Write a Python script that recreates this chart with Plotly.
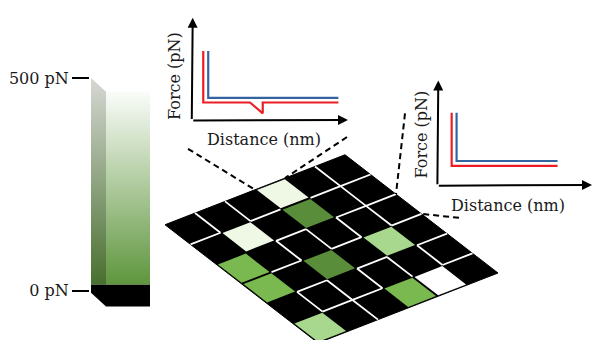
import plotly.graph_objects as go
from plotly.colors import sample_colorscale

W, H = 595, 340
FONT = "DejaVu Serif"
INK = "#1a1a1a"

# ---------------- data ----------------
# colour bar scale
BAR_TICKS = [0, 500]
BAR_TICK_TEXT = ["0 pN", "500 pN"]
BAR_MAX = 500

# rupture force per grid cell (pN); None = no event (black cell)
TILE_FORCE = [
    [None, None, None, 450, None, None],
    [None, 450, None, 20, None, None],
    [200, None, None, None, None, None],
    [200, None, 20, None, 325, None],
    [None, None, None, None, None, None],
    [325, None, None, 200, 500, None],
]

# visible white separators between cells: (i, j) grid nodes
U_EDGES = [(0, 1), (2, 1), (4, 1), (5, 1), (2, 2), (4, 2), (5, 2), (1, 3), (3, 3),
           (5, 3), (1, 4), (3, 4), (5, 4), (1, 5), (2, 5), (5, 5)]
V_EDGES = [(1, 0), (2, 0), (5, 0), (5, 1), (2, 2), (3, 2), (4, 2), (5, 2), (1, 4),
           (2, 4), (3, 4), (4, 4), (5, 4), (2, 5)]

# force-distance curves (arbitrary units): approach (blue) and retract (red)
D1_APPROACH = [10.0, 10.0, 93.8]
F1_APPROACH = [67.5, 21.6, 21.6]
D1_RETRACT = [6.8, 6.8, 36.9, 45.1, 45.1, 93.8]
F1_RETRACT = [67.5, 17.1, 17.1, 6.5, 17.1, 17.1]

D2_APPROACH = [11.9, 11.9, 77.6]
F2_APPROACH = [69.2, 23.0, 23.0]
D2_RETRACT = [8.7, 8.7, 77.6]
F2_RETRACT = [69.2, 18.3, 18.3]

# ---------------- styling ----------------
TILE_SCALE = [[0.0, "rgb(86,136,56)"], [0.4, "rgb(122,184,80)"],
              [0.65, "rgb(168,216,142)"], [0.9, "rgb(238,248,228)"],
              [1.0, "rgb(255,255,255)"]]
FRONT_SCALE = [[0.0, "rgb(92,148,58)"], [1.0, "rgb(250,252,249)"]]
SIDE_SCALE = [[0.0, "rgb(70,110,44)"], [1.0, "rgb(214,216,212)"]]
RED = "rgb(236,30,36)"
BLUE = "rgb(52,100,160)"

# oblique projection of the 6x6 board (page pixels)
ORIGIN = (165.0, 223.0)
U = (30.0, -11.83)
V = (25.5, 20.0)
N = 6


def gp(i, j):
    return (ORIGIN[0] + i * U[0] + j * V[0], ORIGIN[1] + i * U[1] + j * V[1])


def px(x):
    return x / W


def py(y):
    return 1 - y / H


fig = go.Figure()

# ---- board ----
corners = [gp(0, 0), gp(N, 0), gp(N, N), gp(0, N), gp(0, 0)]
fig.add_trace(go.Scatter(x=[c[0] for c in corners], y=[c[1] for c in corners],
                         fill="toself", fillcolor="black", mode="lines",
                         line=dict(color="black", width=1), hoverinfo="skip"))

INSET = 0.07
for j, row in enumerate(TILE_FORCE):
    for i, f in enumerate(row):
        if f is None:
            continue
        color = sample_colorscale(TILE_SCALE, [f / BAR_MAX])[0]
        pts = [gp(i, j), gp(i + 1, j), gp(i + 1, j + 1), gp(i, j + 1)]
        cx = sum(p[0] for p in pts) / 4
        cy = sum(p[1] for p in pts) / 4
        pts = [(p[0] + (cx - p[0]) * INSET, p[1] + (cy - p[1]) * INSET) for p in pts]
        pts.append(pts[0])
        fig.add_trace(go.Scatter(x=[p[0] for p in pts], y=[p[1] for p in pts],
                                 fill="toself", fillcolor=color, mode="lines",
                                 line=dict(width=0), hoverinfo="skip"))

ex, ey = [], []
for i, j in U_EDGES:
    a, b = gp(i, j), gp(i + 1, j)
    ex += [a[0], b[0], None]
    ey += [a[1], b[1], None]
for i, j in V_EDGES:
    a, b = gp(i, j), gp(i, j + 1)
    ex += [a[0], b[0], None]
    ey += [a[1], b[1], None]
fig.add_trace(go.Scatter(x=ex, y=ey, mode="lines", line=dict(color="white", width=1.8),
                         hoverinfo="skip"))

# ---- dashed zoom guides ----
guides = [((188, 146), gp(3, 0)), ((347, 134), gp(4, 0)),
          ((405, 110), gp(N, 2)), ((459, 216), gp(N, 3))]
gx, gy = [], []
for a, b in guides:
    gx += [a[0], b[0], None]
    gy += [a[1], b[1], None]
fig.add_trace(go.Scatter(x=gx, y=gy, mode="lines",
                         line=dict(color="black", width=2, dash="6px,4px"),
                         hoverinfo="skip"))

# ---- force curves ----
for D, F, col, xa, ya in [
    (D1_APPROACH, F1_APPROACH, BLUE, "x2", "y2"),
    (D1_RETRACT, F1_RETRACT, RED, "x2", "y2"),
    (D2_APPROACH, F2_APPROACH, BLUE, "x4", "y4"),
    (D2_RETRACT, F2_RETRACT, RED, "x4", "y4"),
]:
    fig.add_trace(go.Scatter(x=D, y=F, mode="lines", xaxis=xa, yaxis=ya,
                             line=dict(color=col, width=2.2), hoverinfo="skip"))

# ---- colour bar (3D column) ----
PN_PER_PX = BAR_MAX / 216.0
DEPTH = 14 * PN_PER_PX
BASE = -2 * PN_PER_PX
BLACK_TOP = 6 * PN_PER_PX
X_BACK, X_FRONT, X_RIGHT = 91, 106, 150

fig.add_trace(go.Scatter(
    x=[X_BACK, X_FRONT, X_FRONT, X_BACK, X_BACK],
    y=[BAR_MAX, BAR_MAX - DEPTH, BLACK_TOP, BLACK_TOP, BAR_MAX],
    fill="toself", mode="lines", line=dict(width=0), xaxis="x3", yaxis="y3",
    fillgradient=dict(type="vertical", colorscale=SIDE_SCALE, start=BLACK_TOP, stop=BAR_MAX),
    hoverinfo="skip"))
fig.add_trace(go.Scatter(
    x=[X_FRONT, X_RIGHT, X_RIGHT, X_FRONT, X_FRONT],
    y=[BAR_MAX - DEPTH, BAR_MAX - DEPTH, BLACK_TOP, BLACK_TOP, BAR_MAX - DEPTH],
    fill="toself", mode="lines", line=dict(width=0), xaxis="x3", yaxis="y3",
    fillgradient=dict(type="vertical", colorscale=FRONT_SCALE, start=BLACK_TOP,
                      stop=BAR_MAX - DEPTH),
    hoverinfo="skip"))
fig.add_trace(go.Scatter(
    x=[X_BACK, X_RIGHT, X_RIGHT, X_FRONT, X_BACK, X_BACK],
    y=[BLACK_TOP, BLACK_TOP, BASE - DEPTH, BASE - DEPTH, BASE, BLACK_TOP],
    fill="toself", fillcolor="black", mode="lines", line=dict(width=0),
    xaxis="x3", yaxis="y3", hoverinfo="skip"))

# ---- axes ----
hidden = dict(visible=False, fixedrange=True)
y3_lo, y3_hi = -20 * PN_PER_PX, BAR_MAX + 4 * PN_PER_PX
fig.update_layout(
    width=W, height=H, margin=dict(l=0, r=0, t=0, b=0),
    paper_bgcolor="white", plot_bgcolor="rgba(0,0,0,0)", showlegend=False,
    xaxis=dict(domain=[0, 1], range=[0, W], **hidden),
    yaxis=dict(domain=[0, 1], range=[H, 0], **hidden),
    xaxis2=dict(domain=[px(192.7), px(348)], range=[0, 100], anchor="y2", **hidden),
    yaxis2=dict(domain=[py(116.7), py(13)], range=[0, 100], anchor="x2", **hidden),
    xaxis4=dict(domain=[px(438.3), px(592)], range=[0, 100], anchor="y4", **hidden),
    yaxis4=dict(domain=[py(182.7), py(76.7)], range=[0, 100], anchor="x4", **hidden),
    xaxis3=dict(domain=[px(90), px(160)], range=[90, 160], anchor="y3", **hidden),
    yaxis3=dict(domain=[py(310), py(70)], range=[y3_lo, y3_hi], anchor="x3", side="left",
                showline=False, showgrid=False, zeroline=False, fixedrange=True,
                ticks="outside", ticklen=17, tickwidth=2, tickcolor="black",
                tickvals=BAR_TICKS, ticktext=BAR_TICK_TEXT,
                tickfont=dict(family=FONT, size=16, color=INK)),
)

# axis arrows of the two force plots
ann = []
for xa, ya in [("x2", "y2"), ("x4", "y4")]:
    for (x, y) in [(100, 0), (0, 100)]:
        ann.append(dict(xref=xa, yref=ya, axref=xa, ayref=ya, x=x, y=y,
                        ax=-0.6 if x == 0 else -0.6, ay=-0.6, text="",
                        showarrow=True, arrowhead=2, arrowsize=1, arrowwidth=2,
                        arrowcolor="black"))

label = dict(font=dict(family=FONT, size=16, color=INK), showarrow=False,
             xref="paper", yref="paper", xanchor="center", yanchor="middle")
for (x, y, t, ang) in [(175, 72, "Force (pN)", -90), (264, 137, "Distance (nm)", 0),
                       (421.7, 131.7, "Force (pN)", -90), (508.3, 203.3, "Distance (nm)", 0)]:
    ann.append(dict(x=px(x), y=py(y), text=t, textangle=ang, **label))
fig.update_layout(annotations=ann)

fig.write_html("out.html")
